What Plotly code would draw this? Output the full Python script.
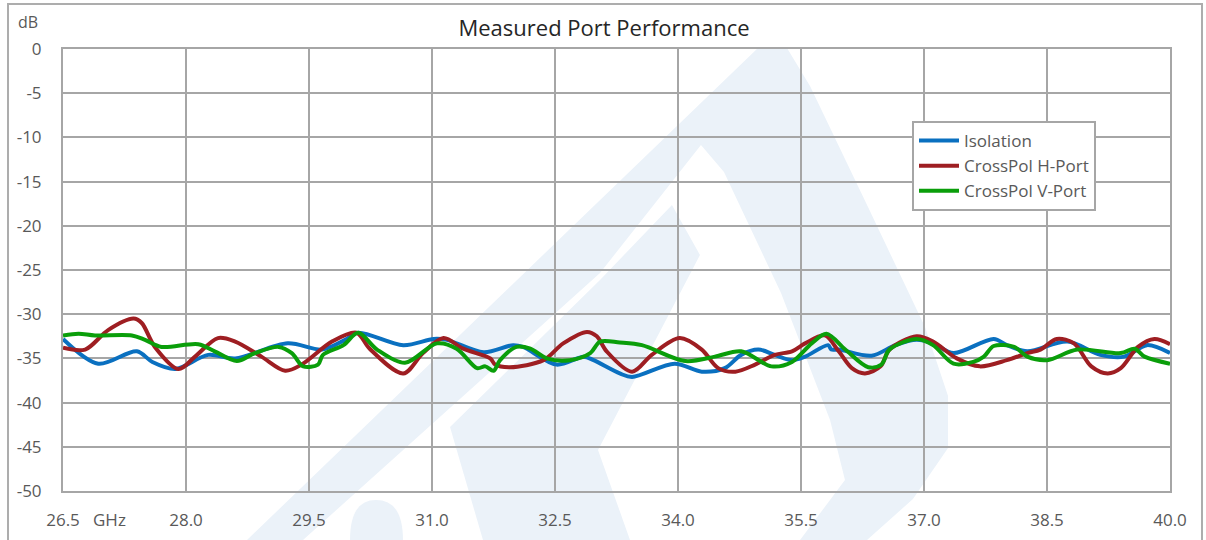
import plotly.graph_objects as go

# ---------------- data ----------------
iso_f = [26.50, 26.93, 27.40, 27.59, 27.87, 28.27, 28.60, 29.24, 29.66, 29.94,
         30.10, 30.65, 31.02, 31.18, 31.63, 31.99, 32.11, 32.52, 32.85, 32.97,
         33.29, 33.44, 33.96, 34.29, 34.57, 34.77, 34.98, 35.18, 35.39, 35.55,
         35.83, 35.87, 35.96, 36.36, 36.65, 36.91, 37.11, 37.36, 37.85, 38.01,
         38.26, 38.75, 39.15, 39.44, 39.72, 40.00]
iso_db = [-32.8, -35.6, -34.2, -35.4, -36.2, -34.6, -35.0, -33.3, -34.0, -32.9,
          -32.1, -33.5, -32.8, -32.9, -34.3, -33.5, -33.7, -35.7, -34.8, -35.2,
          -36.7, -37.1, -35.6, -36.5, -36.1, -34.6, -34.0, -34.6, -35.2, -34.8,
          -33.5, -34.0, -34.0, -34.7, -33.5, -32.9, -33.3, -34.4, -32.8, -33.5,
          -34.2, -33.1, -34.6, -34.8, -33.5, -34.4]

hpol_f = [26.50, 26.77, 27.05, 27.36, 27.46, 27.62, 27.91, 28.11, 28.39, 28.60,
          28.92, 29.21, 29.41, 29.78, 30.08, 30.24, 30.65, 30.89, 31.14, 31.38,
          31.71, 31.77, 31.95, 32.36, 32.60, 32.89, 33.01, 33.13, 33.44, 33.68,
          34.02, 34.29, 34.49, 34.70, 34.94, 35.18, 35.39, 35.55, 35.79, 35.96,
          36.12, 36.28, 36.47, 36.58, 36.91, 37.11, 37.40, 37.68, 38.01, 38.26,
          38.42, 38.62, 38.83, 39.04, 39.24, 39.40, 39.61, 39.81, 40.00]
hpol_db = [-33.8, -34.0, -31.8, -30.5, -31.0, -33.7, -36.2, -34.8, -32.7, -33.1,
           -34.8, -36.4, -35.7, -33.1, -32.1, -33.9, -36.7, -34.4, -32.7, -33.9,
           -35.0, -35.7, -36.0, -35.2, -33.3, -32.0, -32.5, -34.2, -36.5, -34.6,
           -32.7, -34.0, -36.1, -36.5, -35.7, -34.6, -34.2, -33.3, -32.4, -34.2,
           -36.1, -36.7, -35.9, -34.0, -32.5, -33.1, -35.0, -35.9, -35.2, -34.4,
           -34.0, -32.8, -33.3, -35.9, -36.7, -36.1, -33.7, -32.8, -33.4]

vpol_f = [26.50, 26.69, 26.89, 27.34, 27.50, 27.70, 28.15, 28.35, 28.62, 28.84,
          29.13, 29.29, 29.43, 29.61, 29.67, 29.92, 30.10, 30.33, 30.67, 31.06,
          31.30, 31.55, 31.65, 31.75, 31.83, 32.03, 32.20, 32.40, 32.68, 32.93,
          33.05, 33.29, 33.56, 34.09, 34.45, 34.77, 35.14, 35.39, 35.63, 35.81,
          36.04, 36.32, 36.48, 36.58, 36.91, 37.11, 37.36, 37.60, 37.73, 37.85,
          38.10, 38.26, 38.50, 38.87, 39.40, 39.57, 39.69, 40.00]
vpol_db = [-32.4, -32.2, -32.4, -32.4, -32.9, -33.7, -33.4, -34.2, -35.3, -34.4,
           -33.7, -34.4, -35.9, -35.7, -34.6, -33.5, -32.1, -34.0, -35.5, -33.3,
           -33.9, -36.1, -35.9, -36.4, -35.2, -33.7, -33.9, -35.0, -35.2, -34.4,
           -33.1, -33.2, -33.5, -35.3, -34.8, -34.2, -35.9, -35.4, -33.3, -32.2,
           -34.0, -36.0, -35.7, -34.0, -32.8, -33.5, -35.6, -35.4, -34.8, -33.6,
           -33.7, -34.8, -35.2, -34.0, -34.4, -33.9, -34.8, -35.6]

series_names = ["Isolation", "CrossPol H-Port", "CrossPol V-Port"]
series_colors = ["#0A70C0", "#9E1E22", "#0A9E0A"]

x_ticks = [26.5, 28.0, 29.5, 31.0, 32.5, 34.0, 35.5, 37.0, 38.5, 40.0]
x_ticktext = ["26.5", "28.0", "29.5", "31.0", "32.5", "34.0", "35.5", "37.0", "38.5", "40.0"]
y_ticks = [0, -5, -10, -15, -20, -25, -30, -35, -40, -45, -50]
y_ticktext = ["0", "-5", "-10", "-15", "-20", "-25", "-30", "-35", "-40", "-45", "-50"]

title_text = "Measured Port Performance"
y_unit = "dB"
x_unit = "GHz"

# ---------------- figure ----------------
W, H = 1206, 540
# plot area in page pixels: x 63..1170, y 49..491
L, T = 63, 49
R = W - 1170
B = H - 491
PW, PH = W - L - R, H - T - B


def p(x, y):
    """page pixel -> paper coords"""
    return ((x - L) / PW, (H - B - y) / PH)


def path(points, close=True):
    s = ""
    for i, (x, y) in enumerate(points):
        px_, py_ = p(x, y)
        s += ("M" if i == 0 else "L") + f"{px_:.4f},{py_:.4f} "
    return s + ("Z" if close else "")


fig = go.Figure()
for f, d, n, c in zip([iso_f, hpol_f, vpol_f], [iso_db, hpol_db, vpol_db],
                      series_names, series_colors):
    fig.add_trace(go.Scatter(x=f, y=d, name=n, mode="lines",
                             line=dict(color=c, width=4, shape="spline", smoothing=0.9)))

grid = "#A6A6A6"
txt = "#595959"
font = "Open Sans"

# faint watermark logo (decoration)
wm = "rgb(235,242,249)"
outer = [(247, 540), (758, 48), (787, 48), (810, 86), (868, 207), (925, 327),
         (948, 396), (948, 448), (913, 499), (867, 540)]
hole = [(303, 540), (600, 273), (701, 145), (724, 172), (781, 293), (830, 420),
        (845, 480), (800, 540)]
band = [(450, 427), (600, 280), (672, 205), (700, 255), (598, 450), (630, 540), (483, 540)]
shapes = [
    dict(type="path", xref="paper", yref="paper", path=path(outer) + " " + path(hole),
         fillcolor=wm, line=dict(width=0), layer="below", fillrule="evenodd"),
    dict(type="path", xref="paper", yref="paper", path=path(band),
         fillcolor=wm, line=dict(width=0), layer="below"),
]
a = p(350, 540); b = p(350, 500); c = p(376, 500); d = p(403, 500); e = p(403, 540)
shapes.append(dict(type="path", xref="paper", yref="paper",
                   path=f"M{a[0]:.4f},{a[1]:.4f} Q{b[0]:.4f},{b[1]:.4f} {c[0]:.4f},{c[1]:.4f} "
                        f"Q{d[0]:.4f},{d[1]:.4f} {e[0]:.4f},{e[1]:.4f} Z",
                   fillcolor=wm, line=dict(width=0), layer="below"))
# outer chart border
x0, y1 = p(8, 4)
x1, y0 = p(1202, 560)
shapes.append(dict(type="rect", xref="paper", yref="paper", x0=x0, x1=x1, y0=y0, y1=y1,
                   line=dict(color="#ADADAD", width=2), fillcolor="rgba(0,0,0,0)"))

gx, gy = p(91, 519)
dx, dy = p(16, 22)
fig.update_layout(
    width=W, height=H,
    margin=dict(l=L, r=R, t=T, b=B, pad=0, autoexpand=False),
    paper_bgcolor="white", plot_bgcolor="rgba(0,0,0,0)",
    font=dict(family=font, color=txt),
    title=dict(text=title_text, x=604 / W, xref="container",
               y=1 - 28 / H, yref="container", yanchor="middle", xanchor="center",
               font=dict(size=22, color="#262626", family=font)),
    showlegend=True,
    legend=dict(x=p(912, 0)[0], y=p(0, 121)[1], xanchor="left", yanchor="top",
                bgcolor="white", bordercolor=grid, borderwidth=2,
                font=dict(size=17, color=txt, family=font), itemwidth=40,
                tracegroupgap=0),
    shapes=shapes,
    annotations=[
        dict(text=x_unit, xref="paper", yref="paper", x=gx, y=gy, xanchor="left",
             yanchor="middle", showarrow=False, font=dict(size=17, color=txt, family=font)),
        dict(text=y_unit, xref="paper", yref="paper", x=dx, y=dy, xanchor="left",
             yanchor="middle", showarrow=False, font=dict(size=16, color=txt, family=font)),
    ],
)
fig.update_xaxes(range=[26.5, 40], tickvals=x_ticks, ticktext=x_ticktext,
                 showgrid=True, gridcolor=grid, gridwidth=2, automargin=False,
                 showline=True, linecolor=grid, linewidth=2, mirror=True,
                 zeroline=False, ticks="", ticklabelstandoff=13,
                 tickfont=dict(size=17, color=txt, family=font))
fig.update_yaxes(range=[-50, 0], tickvals=y_ticks, ticktext=y_ticktext,
                 showgrid=True, gridcolor=grid, gridwidth=2, automargin=False,
                 showline=True, linecolor=grid, linewidth=2, mirror=True,
                 zeroline=False, ticks="", ticklabelstandoff=16,
                 tickfont=dict(size=17, color=txt, family=font))

fig.write_html("out.html",
               config={"displayModeBar": False},
               post_script="document.body.style.margin='0';"
                           "document.body.style.overflow='hidden';")
